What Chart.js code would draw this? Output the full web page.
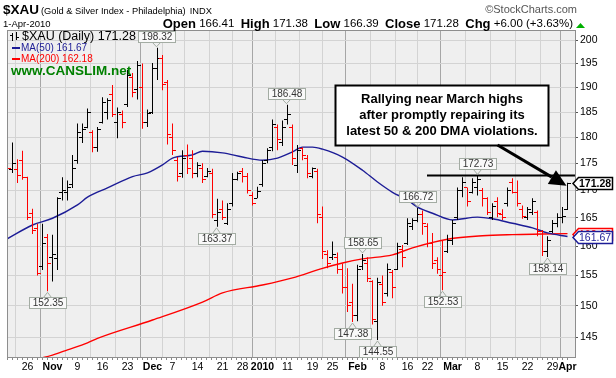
<!DOCTYPE html>
<html>
<head>
<meta charset="utf-8">
<script src="https://cdn.jsdelivr.net/npm/chart.js@4.4.1/dist/chart.umd.min.js"></script>
<style>
  html, body { margin: 0; padding: 0; background: #fff; }
  canvas { display: block; }
</style>
</head>
<body>
<canvas id="chart" width="616" height="378"></canvas>
<script>
// trading days, 20-Oct-2009 .. 1-Apr-2010
const days = [
  'Oct 20', 'Oct 21', 'Oct 22', 'Oct 23', 'Oct 26', 'Oct 27', 'Oct 28', 'Oct 29', 'Oct 30',
  'Nov 2', 'Nov 3', 'Nov 4', 'Nov 5', 'Nov 6', 'Nov 9', 'Nov 10', 'Nov 11', 'Nov 12', 'Nov 13',
  'Nov 16', 'Nov 17', 'Nov 18', 'Nov 19', 'Nov 20', 'Nov 23', 'Nov 24', 'Nov 25', 'Nov 27', 'Nov 30',
  'Dec 1', 'Dec 2', 'Dec 3', 'Dec 4', 'Dec 7', 'Dec 8', 'Dec 9', 'Dec 10', 'Dec 11', 'Dec 14',
  'Dec 15', 'Dec 16', 'Dec 17', 'Dec 18', 'Dec 21', 'Dec 22', 'Dec 23', 'Dec 24', 'Dec 28', 'Dec 29',
  'Dec 30', 'Dec 31', 'Jan 4', 'Jan 5', 'Jan 6', 'Jan 7', 'Jan 8', 'Jan 11', 'Jan 12', 'Jan 13',
  'Jan 14', 'Jan 15', 'Jan 19', 'Jan 20', 'Jan 21', 'Jan 22', 'Jan 25', 'Jan 26', 'Jan 27', 'Jan 28',
  'Jan 29', 'Feb 1', 'Feb 2', 'Feb 3', 'Feb 4', 'Feb 5', 'Feb 8', 'Feb 9', 'Feb 10', 'Feb 11',
  'Feb 12', 'Feb 16', 'Feb 17', 'Feb 18', 'Feb 19', 'Feb 22', 'Feb 23', 'Feb 24', 'Feb 25', 'Feb 26',
  'Mar 1', 'Mar 2', 'Mar 3', 'Mar 4', 'Mar 5', 'Mar 8', 'Mar 9', 'Mar 10', 'Mar 11', 'Mar 12',
  'Mar 15', 'Mar 16', 'Mar 17', 'Mar 18', 'Mar 19', 'Mar 22', 'Mar 23', 'Mar 24', 'Mar 25', 'Mar 26',
  'Mar 29', 'Mar 30', 'Mar 31', 'Apr 1',
];

const open = [
  176.0, 173.9, 173.9, 175.6, 172.3, 165.7, 163.0, 156.5, 161.5,
  158.0, 157.9, 169.6, 169.5, 171.0, 175.5, 180.0, 182.0, 181.0, 178.0,
  183.0, 185.0, 188.5, 183.0, 184.5, 186.5, 192.0, 189.5, 190.0, 183.0,
  185.0, 194.0, 196.0, 191.0, 180.0, 175.5, 173.0, 176.5, 176.0, 173.0,
  174.0, 172.5, 173.0, 164.5, 166.5, 164.0, 167.5, 172.0, 173.5, 172.5,
  169.0, 168.5, 171.0, 175.5, 178.0, 182.0, 179.0, 183.5, 182.0, 174.5,
  177.8, 176.0, 172.5, 173.5, 165.0, 158.5, 158.0, 158.0, 156.0, 153.0,
  150.5, 148.5, 156.5, 157.0, 154.0, 147.5, 153.5, 152.0, 155.5, 156.0,
  159.5, 160.5, 163.5, 164.5, 165.5, 163.5, 160.5, 157.5, 155.0, 159.0,
  161.0, 165.0, 170.0, 170.5, 169.5, 170.5, 170.0, 168.5, 165.0, 168.0,
  165.5, 167.5, 171.5, 169.5, 166.5, 165.0, 166.0, 166.0, 162.5, 159.0,
  162.5, 164.0, 165.0, 166.41,
];
const high = [
  177.0, 179.0, 175.8, 177.4, 172.5, 166.6, 163.9, 163.9, 162.1,
  162.0, 168.7, 172.4, 171.8, 176.6, 182.7, 182.7, 185.7, 181.4, 182.0,
  188.0, 187.8, 190.5, 185.9, 185.3, 193.6, 193.0, 195.5, 195.0, 185.5,
  195.1, 198.32, 196.8, 191.5, 182.7, 176.2, 177.5, 178.6, 177.5, 175.2,
  175.0, 174.1, 174.0, 168.4, 168.1, 167.6, 173.2, 173.4, 174.1, 173.2,
  169.6, 170.6, 175.6, 177.9, 183.5, 182.5, 183.3, 186.48, 182.5, 178.5,
  178.1, 176.6, 174.2, 174.0, 167.0, 159.3, 160.8, 158.9, 157.0, 156.2,
  153.6, 156.8, 158.65, 158.1, 154.2, 154.6, 155.0, 157.0, 155.9, 160.6,
  160.2, 164.9, 164.9, 166.72, 166.3, 164.0, 162.3, 158.1, 161.0, 162.0,
  164.6, 170.5, 172.4, 170.5, 172.2, 172.73, 170.4, 168.7, 167.6, 168.7,
  166.5, 170.5, 172.2, 171.8, 167.2, 166.9, 168.5, 166.3, 162.8, 161.7,
  164.6, 165.8, 166.9, 171.38,
];
const low = [
  172.5, 173.2, 171.3, 171.9, 164.6, 162.1, 155.0, 155.9, 152.35,
  154.0, 155.9, 168.1, 168.1, 170.4, 174.9, 178.9, 181.8, 177.1, 177.2,
  182.7, 183.5, 184.0, 179.8, 181.8, 186.0, 188.0, 187.5, 181.7, 182.0,
  184.6, 191.5, 189.4, 178.6, 176.6, 171.6, 172.3, 173.0, 172.2, 172.4,
  171.3, 172.4, 164.9, 163.37, 164.6, 163.7, 167.0, 171.8, 171.4, 169.4,
  167.2, 168.5, 170.6, 175.0, 177.3, 177.5, 178.3, 182.5, 174.7, 173.2,
  175.6, 172.2, 172.2, 164.0, 157.8, 156.2, 157.6, 155.3, 152.0, 149.0,
  147.38, 147.5, 155.9, 153.9, 147.0, 144.55, 150.0, 151.5, 151.2, 155.9,
  156.4, 160.2, 162.8, 164.2, 162.0, 159.8, 156.1, 155.3, 152.53, 158.8,
  160.2, 164.6, 168.7, 167.0, 169.4, 169.0, 167.0, 165.5, 164.6, 165.1,
  164.6, 167.0, 169.4, 167.0, 164.8, 164.6, 165.5, 161.7, 158.3, 158.14,
  162.3, 163.3, 164.0, 166.39,
];
const close = [
  174.0, 175.0, 172.8, 172.3, 165.0, 162.8, 155.3, 160.5, 157.0,
  158.6, 168.4, 170.0, 170.5, 174.0, 181.0, 181.5, 185.0, 178.0, 181.5,
  187.0, 187.3, 184.5, 185.0, 183.0, 192.5, 189.0, 194.5, 183.0, 184.8,
  194.0, 196.0, 190.5, 180.5, 177.5, 172.5, 176.0, 174.0, 173.0, 174.5,
  172.0, 173.5, 165.5, 166.0, 165.0, 166.5, 172.0, 173.0, 172.5, 170.0,
  167.6, 169.8, 175.0, 177.5, 182.5, 179.5, 182.0, 184.5, 176.0, 177.5,
  176.5, 173.0, 174.0, 165.5, 159.0, 157.0, 158.5, 156.0, 153.0, 150.0,
  148.5, 156.0, 157.5, 154.5, 147.8, 153.8, 150.5, 156.0, 153.0, 160.0,
  158.0, 164.0, 164.5, 165.5, 164.0, 160.5, 157.0, 156.0, 155.5, 161.0,
  164.0, 170.0, 171.5, 168.0, 171.5, 172.0, 168.5, 166.0, 167.0, 165.8,
  165.0, 170.0, 169.6, 167.5, 165.2, 166.5, 168.0, 162.5, 159.0, 161.0,
  164.0, 165.0, 165.28, 171.28,
];

// moving averages (day index -> value)
const ma50Days = [0, 5, 9, 14, 16, 20, 25, 28, 31, 33, 37, 39, 43, 47, 51, 54, 57, 59, 61, 63, 67, 71, 74, 77, 80, 82, 85, 89, 94, 97, 101, 105, 108, 112];
const ma50 = [161.3, 163.7, 164.9, 167.3, 168.7, 170.4, 172.5, 173.2, 174.7, 176.0, 176.6, 177.3, 177.0, 176.2, 175.6, 176.0, 177.2, 178.1, 178.1, 177.7, 176.2, 173.7, 171.5, 169.6, 168.2, 166.9, 165.8, 164.6, 165.1, 164.8, 164.0, 163.2, 162.3, 161.67];
const ma200Days = [6, 9, 12, 16, 18, 29, 39, 43, 51, 57, 63, 67, 71, 77, 81, 88, 95, 101, 107, 112];
const ma200 = [141.6, 142.2, 143.0, 144.1, 144.8, 147.7, 150.6, 152.1, 153.4, 154.6, 156.2, 157.1, 157.8, 158.5, 159.7, 161.2, 161.8, 162.0, 162.1, 162.18];

const tickDays = [4, 9, 14, 19, 24, 29, 33, 38, 43, 47, 51, 56, 61, 65, 70, 75, 80, 84, 89, 94, 99, 104, 109, 112];
const tickText = ['26', 'Nov', '9', '16', '23', 'Dec', '7', '14', '21', '28', '2010', '11', '19', '25', 'Feb', '8', '16', '22', 'Mar', '8', '15', '22', '29', 'Apr'];
const priceTicks = [145, 150, 155, 160, 165, 170, 175, 180, 185, 190, 195, 200];

// labelled highs and lows
const peakDays = [30, 56, 71, 82, 94];
const troughDays = [8, 42, 69, 74, 87, 108];

const noteLines = ['Rallying near March highs', 'after promptly repairing its', 'latest 50 & 200 DMA violations.'];
const noteDays = [65.5, 108.1];
const notePrices = [190.5, 178.5];
const arrowDays = [98, 111.8];
const arrowPrices = [178.5, 170.8];
const resistanceDays = [83.9, 113.5];

const fam = '"Liberation Sans", Arial, Helvetica, sans-serif';
const last = close.length - 1;
const up = close.map((c, i) => i > 0 && c >= close[i - 1]);
const isMonth = (t) => !/^\d{1,2}$/.test(t);

function tickImage(color, left) {
  const c = document.createElement('canvas');
  c.width = 7;
  c.height = 1;
  const g = c.getContext('2d');
  g.fillStyle = color;
  g.fillRect(left ? 0 : 4, 0, 3, 1);
  return c;
}
const openImg = [tickImage('#ff0000', true), tickImage('#000000', true)];
const closeImg = [tickImage('#ff0000', false), tickImage('#000000', false)];

const plotBg = {
  id: 'plotBg',
  beforeDraw(chart) {
    const { ctx, chartArea: a } = chart;
    ctx.save();
    ctx.fillStyle = '#fff';
    ctx.fillRect(0, 0, chart.width, chart.height);
    ctx.fillStyle = '#efefef';
    ctx.fillRect(a.left, a.top, a.right - a.left, a.bottom - a.top);
    ctx.restore();
  },
  beforeDatasetsDraw(chart) {
    const { ctx, chartArea: a, scales: { x } } = chart;
    ctx.save();
    ctx.strokeStyle = '#8e8e8e';
    ctx.lineWidth = 1;
    ctx.strokeRect(a.left - 0.5, a.top - 0.5, a.right - a.left + 1, a.bottom - a.top + 1);
    ctx.fillStyle = '#888';
    days.forEach((d, i) => {
      const px = Math.round(x.getPixelForValue(i));
      if (px >= a.left && px <= a.right) ctx.fillRect(px - 1, a.bottom + 1, 1, 2);
    });
    ctx.restore();
  },
};

function callout(ctx, x, y, text, above) {
  ctx.font = `10px ${fam}`;
  const w = Math.round(ctx.measureText(text).width) + 6;
  const h = 11;
  const bx = Math.round(x - w / 2) + 0.5;
  const by = above ? Math.round(y - 6 - h) + 0.5 : Math.round(y + 6) + 0.5;
  const edge = above ? by + h : by;
  ctx.strokeStyle = '#a3aca3';
  ctx.lineWidth = 1;
  ctx.beginPath();
  ctx.moveTo(x - 4, edge);
  ctx.lineTo(x, above ? y - 1 : y + 1);
  ctx.lineTo(x + 4, edge);
  ctx.stroke();
  ctx.fillStyle = '#f9f9f9';
  ctx.fillRect(bx, by, w, h);
  ctx.strokeRect(bx, by, w, h);
  ctx.fillStyle = '#333';
  ctx.textAlign = 'center';
  ctx.textBaseline = 'middle';
  ctx.fillText(text, bx + w / 2, by + h / 2 + 0.5);
}

function sideTag(ctx, left, y, text, stroke, color, bold) {
  const yy = Math.round(y) + 0.5;
  ctx.beginPath();
  ctx.moveTo(left - 2, yy);
  ctx.lineTo(left + 3.5, yy - 6);
  ctx.lineTo(612.5, yy - 6);
  ctx.lineTo(612.5, yy + 6);
  ctx.lineTo(left + 3.5, yy + 6);
  ctx.closePath();
  ctx.fillStyle = '#fff';
  ctx.fill();
  ctx.strokeStyle = stroke;
  ctx.lineWidth = 1.5;
  ctx.stroke();
  ctx.fillStyle = color;
  ctx.font = `${bold ? 'bold ' : ''}10.5px ${fam}`;
  ctx.textAlign = 'left';
  ctx.textBaseline = 'middle';
  ctx.fillText(text, left + 4, yy + 1);
}

const overlays = {
  id: 'overlays',
  afterDatasetsDraw(chart) {
    const { ctx, scales: { x, y } } = chart;
    ctx.save();

    // legend block
    ctx.strokeStyle = '#000';
    ctx.lineWidth = 1;
    ctx.beginPath();
    ctx.moveTo(12.5, 33); ctx.lineTo(12.5, 41);
    ctx.moveTo(10, 35.5); ctx.lineTo(12, 35.5);
    ctx.moveTo(16.5, 32); ctx.lineTo(16.5, 40);
    ctx.moveTo(17, 37.5); ctx.lineTo(19, 37.5);
    ctx.stroke();
    ctx.textAlign = 'left';
    ctx.textBaseline = 'middle';
    ctx.fillStyle = '#000';
    ctx.font = `12.5px ${fam}`;
    ctx.fillText(`$XAU (Daily) ${close[last].toFixed(2)}`, 22, 37);
    ctx.font = `10px ${fam}`;
    ctx.fillStyle = '#1c1c96';
    ctx.fillRect(12, 47, 8, 2);
    ctx.fillText(`MA(50) ${ma50[ma50.length - 1].toFixed(2)}`, 21, 48);
    ctx.fillStyle = '#ff0000';
    ctx.fillRect(12, 58, 8, 2);
    ctx.fillText(`MA(200) ${ma200[ma200.length - 1].toFixed(2)}`, 21, 59);
    ctx.fillStyle = '#008000';
    ctx.font = `bold 13.5px ${fam}`;
    ctx.fillText('www.CANSLIM.net', 11, 71);

    // labelled highs / lows
    peakDays.forEach((d) => callout(ctx, Math.round(x.getPixelForValue(d)) - 0.5, y.getPixelForValue(high[d]), high[d].toFixed(2), true));
    troughDays.forEach((d) => callout(ctx, Math.round(x.getPixelForValue(d)) - 0.5, y.getPixelForValue(low[d]), low[d].toFixed(2), false));

    // note box
    const bx0 = Math.round(x.getPixelForValue(noteDays[0])) + 0.5;
    const bx1 = Math.round(x.getPixelForValue(noteDays[1])) + 0.5;
    const by0 = Math.round(y.getPixelForValue(notePrices[0])) + 0.5;
    const by1 = Math.round(y.getPixelForValue(notePrices[1])) + 0.5;
    ctx.fillStyle = '#fff';
    ctx.fillRect(bx0, by0, bx1 - bx0, by1 - by0);
    ctx.strokeStyle = '#000';
    ctx.lineWidth = 2;
    ctx.strokeRect(bx0, by0, bx1 - bx0, by1 - by0);
    ctx.fillStyle = '#000';
    ctx.font = `bold 13px ${fam}`;
    ctx.textAlign = 'center';
    const lh = (by1 - by0) / (noteLines.length + 0.7);
    noteLines.forEach((t, k) => ctx.fillText(t, (bx0 + bx1) / 2, by0 + lh * (k + 0.85)));

    // arrow
    const ax0 = x.getPixelForValue(arrowDays[0]);
    const ay0 = y.getPixelForValue(arrowPrices[0]);
    const ax1 = x.getPixelForValue(arrowDays[1]);
    const ay1 = y.getPixelForValue(arrowPrices[1]);
    const ang = Math.atan2(ay1 - ay0, ax1 - ax0);
    const hl = 17;
    const hw = 8;
    const bxh = ax1 - hl * Math.cos(ang);
    const byh = ay1 - hl * Math.sin(ang);
    ctx.lineWidth = 3;
    ctx.beginPath();
    ctx.moveTo(ax0, ay0);
    ctx.lineTo(bxh, byh);
    ctx.stroke();
    ctx.beginPath();
    ctx.moveTo(ax1, ay1);
    ctx.lineTo(bxh + hw * Math.sin(ang), byh - hw * Math.cos(ang));
    ctx.lineTo(bxh - hw * Math.sin(ang), byh + hw * Math.cos(ang));
    ctx.closePath();
    ctx.fill();
    ctx.restore();
  },
  afterDraw(chart) {
    const { ctx, chartArea: a, scales: { y } } = chart;
    ctx.save();
    // value tags on the price axis
    sideTag(ctx, a.right, y.getPixelForValue(ma200[ma200.length - 1]), ma200[ma200.length - 1].toFixed(2), '#ff0000', '#ff0000', false);
    sideTag(ctx, a.right, y.getPixelForValue(ma50[ma50.length - 1]), ma50[ma50.length - 1].toFixed(2), '#1c1c96', '#1c1c96', false);
    sideTag(ctx, a.right, y.getPixelForValue(close[last]), close[last].toFixed(2), '#000', '#000', true);

    // header
    ctx.textBaseline = 'middle';
    ctx.textAlign = 'left';
    ctx.fillStyle = '#000';
    ctx.font = `bold 13.5px ${fam}`;
    ctx.fillText('$XAU', 3, 10);
    const title = '(Gold & Silver Index - Philadelphia)';
    ctx.font = `9.3px ${fam}`;
    ctx.fillText(title, 41, 11);
    ctx.fillText('INDX', 41 + ctx.measureText(title).width + 4, 11);
    ctx.fillStyle = '#555';
    ctx.textAlign = 'right';
    ctx.font = `11px ${fam}`;
    ctx.fillText('\u00A9StockCharts.com', 577, 10);

    ctx.textAlign = 'left';
    ctx.fillStyle = '#000';
    ctx.font = `9.5px ${fam}`;
    ctx.fillText('1-Apr-2010', 3, 24);
    const chg = close[last] - close[last - 1];
    const pct = (chg / close[last - 1]) * 100;
    const parts = [
      ['Open', true], [` ${open[last].toFixed(2)}  `, false],
      ['High', true], [` ${high[last].toFixed(2)}  `, false],
      ['Low', true], [` ${low[last].toFixed(2)}  `, false],
      ['Close', true], [` ${close[last].toFixed(2)}  `, false],
      ['Chg', true], [` +${chg.toFixed(2)} (+${pct.toFixed(2)}%)`, false],
    ];
    const fontOf = (b) => (b ? `bold 13px ${fam}` : `11.5px ${fam}`);
    let total = 0;
    parts.forEach(([t, b]) => { ctx.font = fontOf(b); total += ctx.measureText(t).width; });
    let cx = 573 - total;
    parts.forEach(([t, b]) => {
      ctx.font = fontOf(b);
      ctx.fillText(t, cx, 24);
      cx += ctx.measureText(t).width;
    });
    ctx.fillStyle = '#00b000';
    ctx.beginPath();
    ctx.moveTo(576, 28); ctx.lineTo(585, 28); ctx.lineTo(580.5, 23);
    ctx.closePath();
    ctx.fill();
    ctx.restore();
  },
};

const idx = days.map((d, i) => i);

new Chart(document.getElementById('chart'), {
  type: 'bar',
  data: {
    datasets: [
      {
        type: 'line',
        label: 'MA(200)',
        data: ma200Days.map((d, k) => ({ x: d, y: ma200[k] })),
        borderColor: '#ff0000',
        borderWidth: 1.4,
        pointRadius: 0,
        cubicInterpolationMode: 'monotone',
        clip: 0,
        order: 4,
      },
      {
        type: 'line',
        label: 'MA(50)',
        data: ma50Days.map((d, k) => ({ x: d, y: ma50[k] })),
        borderColor: '#1c1c96',
        borderWidth: 1.4,
        pointRadius: 0,
        cubicInterpolationMode: 'monotone',
        clip: 0,
        order: 3,
      },
      {
        type: 'line',
        label: 'resistance',
        data: resistanceDays.map((d) => ({ x: d, y: high[94] })),
        borderColor: '#000',
        borderWidth: 2,
        pointRadius: 0,
        clip: 0,
        order: 0,
      },
      {
        type: 'bar',
        label: '$XAU',
        data: idx.map((i) => ({ x: i, y: [low[i], high[i]] })),
        backgroundColor: idx.map((i) => (up[i] ? '#000000' : '#ff0000')),
        barThickness: 1,
        inflateAmount: 0,
        clip: 0,
        order: 2,
      },
      {
        type: 'scatter',
        label: 'open',
        data: idx.map((i) => ({ x: i, y: open[i] })),
        pointStyle: (c) => openImg[up[c.dataIndex] ? 1 : 0],
        pointRadius: 2,
        clip: 0,
        order: 1,
      },
      {
        type: 'scatter',
        label: 'close',
        data: idx.map((i) => ({ x: i, y: close[i] })),
        pointStyle: (c) => closeImg[up[c.dataIndex] ? 1 : 0],
        pointRadius: 2,
        clip: 0,
        order: 1,
      },
    ],
  },
  options: {
    responsive: false,
    animation: false,
    devicePixelRatio: 1,
    events: [],
    layout: { padding: { left: 8, top: 31, right: 0, bottom: 0 } },
    plugins: {
      legend: { display: false },
      tooltip: { enabled: false },
    },
    scales: {
      x: {
        type: 'linear',
        min: 0.1,
        max: 113.5,
        offset: false,
        afterBuildTicks: (s) => { s.ticks = tickDays.map((v) => ({ value: v })); },
        afterFit: (s) => { s.height = 21; },
        grid: {
          color: (c) => (c.tick && isMonth(tickText[c.index]) ? '#a6a6a6' : '#d3d3d3'),
          drawTicks: false,
          tickLength: 0,
        },
        border: { display: false },
        ticks: {
          autoSkip: false,
          maxRotation: 0,
          padding: 4,
          color: '#000',
          callback: (v, i) => tickText[i],
          font: (c) => ({ family: fam, size: 10.5, weight: isMonth(tickText[c.index] || '') ? 'bold' : 'normal' }),
        },
      },
      y: {
        type: 'logarithmic',
        position: 'right',
        min: 141.9,
        max: 201.96,
        afterBuildTicks: (s) => { s.ticks = priceTicks.map((v) => ({ value: v })); },
        afterFit: (s) => { s.width = 41; },
        grid: {
          color: '#d3d3d3',
          tickColor: '#555',
          tickLength: 3,
        },
        border: { display: false },
        ticks: {
          padding: 2,
          color: '#000',
          font: { family: fam, size: 10.5 },
          callback: (v) => String(v),
        },
      },
    },
  },
  plugins: [plotBg, overlays],
});
</script>
</body>
</html>
